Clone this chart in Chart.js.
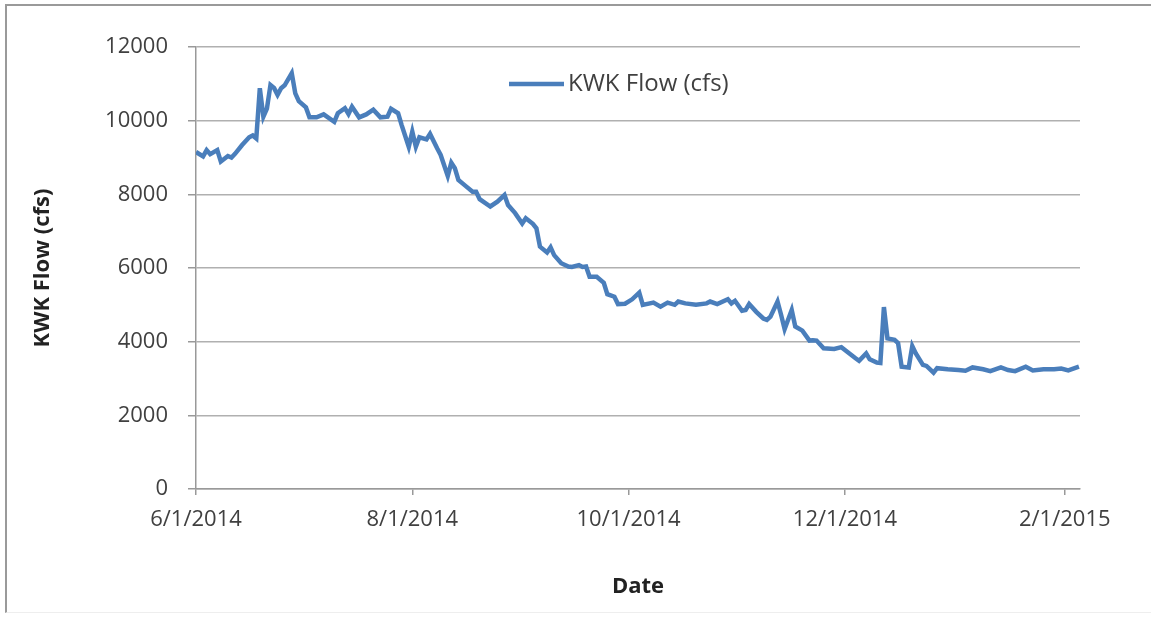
<!DOCTYPE html>
<html>
<head>
<meta charset="utf-8">
<script src="https://cdn.jsdelivr.net/npm/chart.js@4.4.1/dist/chart.umd.min.js"></script>
<style>
  body { margin: 0; background: #fff; }
  #frame { position: absolute; left: 5px; top: 4px; width: 1160px; height: 606px;
           border-top: 2px solid #9a9a9a; border-left: 2px solid #9a9a9a; border-bottom: 1px solid #eee; }
  #flowChart { position: absolute; left: 0; top: 0; }
</style>
</head>
<body>
<div id="frame"></div>
<canvas id="flowChart" width="1151" height="617"></canvas>
<script>
// days since 6/1/2014 and KWK flow
const days = [0, 2, 3, 4, 6, 7, 9, 10, 11, 13, 15, 16, 17, 18, 19, 20, 21, 22, 23, 24,
  25, 27, 28, 29, 31, 32, 34, 36, 39, 40, 42, 43, 44, 46, 48, 50, 52, 54, 55, 57,
  58, 60, 61, 62, 63, 65, 66, 68, 69, 71, 72, 73, 74, 76, 78, 79, 80, 83, 85, 87,
  88, 90, 92, 93, 95, 96, 97, 99, 100, 101, 103, 105, 106, 108, 109, 110, 111, 113, 115, 116,
  118, 119, 121, 123, 125, 126, 129, 131, 133, 135, 136, 138, 141, 144, 145, 147, 150, 151, 152, 154,
  155, 156, 158, 160, 161, 162, 164, 165, 166, 168, 169, 171, 173, 174, 175, 177, 180, 182, 184, 186,
  187, 189, 190, 192, 193, 194, 195, 197, 198, 199, 201, 202, 203, 205, 206, 208, 209, 212, 215, 217,
  219, 222, 224, 227, 229, 231, 234, 236, 239, 242, 244, 246, 249];
const flow = [9150, 9030, 9200, 9090, 9200, 8890, 9040, 9000, 9100, 9340, 9550, 9600, 9520, 10880, 10110, 10330, 10970, 10890, 10700, 10880,
  10960, 11290, 10740, 10530, 10360, 10090, 10090, 10170, 9970, 10200, 10340, 10180, 10380, 10090, 10170, 10300, 10090, 10110, 10320, 10200,
  9880, 9290, 9700, 9290, 9550, 9490, 9640, 9250, 9070, 8500, 8860, 8710, 8390, 8230, 8070, 8070, 7870, 7670, 7800, 7980,
  7710, 7490, 7210, 7350, 7200, 7080, 6580, 6420, 6560, 6350, 6130, 6040, 6030, 6080, 6030, 6040, 5760, 5760, 5600, 5290,
  5220, 5020, 5030, 5150, 5330, 5000, 5060, 4950, 5060, 5000, 5090, 5040, 5000, 5040, 5090, 5020, 5150, 5040, 5110, 4840,
  4860, 5020, 4810, 4630, 4590, 4680, 5090, 4730, 4340, 4860, 4410, 4300, 4030, 4040, 4030, 3820, 3800, 3850, 3700, 3550,
  3480, 3680, 3520, 3430, 3420, 4940, 4090, 4050, 3960, 3320, 3300, 3880, 3680, 3370, 3340, 3160, 3280, 3250, 3230, 3210,
  3300, 3250, 3200, 3300, 3230, 3200, 3320, 3220, 3250, 3250, 3270, 3220, 3320];
const tickDays = [0, 61, 122, 183, 245];
const tickLabels = ['6/1/2014', '8/1/2014', '10/1/2014', '12/1/2014', '2/1/2015'];
const yTicks = [0, 2000, 4000, 6000, 8000, 10000, 12000];

const FONT = "'Open Sans', sans-serif";
const TXT = '#404040';
const LINE = '#4a7ebb';
const GRID = '#b0b0b0';

// legend drawn inside the plot, Excel style
const innerLegend = {
  id: 'innerLegend',
  afterDraw(chart) {
    const c = chart.ctx, ds = chart.data.datasets[0];
    c.save();
    c.strokeStyle = ds.borderColor;
    c.lineWidth = 4.5;
    c.beginPath(); c.moveTo(509, 84); c.lineTo(564, 84); c.stroke();
    c.fillStyle = TXT;
    c.font = '24px ' + FONT;
    c.textBaseline = 'middle';
    c.fillText(ds.label, 568, 84);
    c.restore();
  }
};

new Chart(document.getElementById('flowChart'), {
  type: 'line',
  data: {
    datasets: [{
      label: 'KWK Flow (cfs)',
      data: days.map((d, i) => ({x: d, y: flow[i]})),
      borderColor: LINE,
      borderWidth: 4.5,
      pointRadius: 0,
      tension: 0
    }]
  },
  options: {
    responsive: false,
    animation: false,
    layout: { padding: { top: 47, right: 71, left: 0, bottom: 0 } },
    plugins: { legend: { display: false }, tooltip: { enabled: false } },
    scales: {
      x: {
        type: 'linear', min: 0, max: 249.3,
        afterBuildTicks: s => { s.ticks = tickDays.map(v => ({value: v})); },
        afterFit: s => { s.height = 128; },
        ticks: {
          autoSkip: false, maxRotation: 0, padding: 12, color: TXT,
          font: { family: FONT, size: 22 },
          callback: (v, i) => tickLabels[i]
        },
        grid: { drawOnChartArea: false, tickLength: 6, color: '#999', lineWidth: 1.5 },
        border: { color: '#999', width: 1.5 },
        title: { display: true, text: 'Date', color: '#222',
                 font: { family: FONT, size: 22, weight: 'bold' }, padding: { top: 0, bottom: 17 } }
      },
      y: {
        min: 0, max: 12000,
        afterBuildTicks: s => { s.ticks = yTicks.map(v => ({value: v})); },
        afterFit: s => { s.width = 196; },
        ticks: { padding: 20, color: TXT, font: { family: FONT, size: 22 }, callback: v => String(v) },
        grid: { color: GRID, lineWidth: 1.5, tickLength: 8, tickColor: '#999' },
        border: { color: '#999', width: 1.5 },
        title: { display: true, text: 'KWK Flow (cfs)', color: '#222',
                 font: { family: FONT, size: 22, weight: 'bold' }, padding: { top: 30, bottom: 0 } }
      }
    }
  },
  plugins: [innerLegend]
});
</script>
</body>
</html>
